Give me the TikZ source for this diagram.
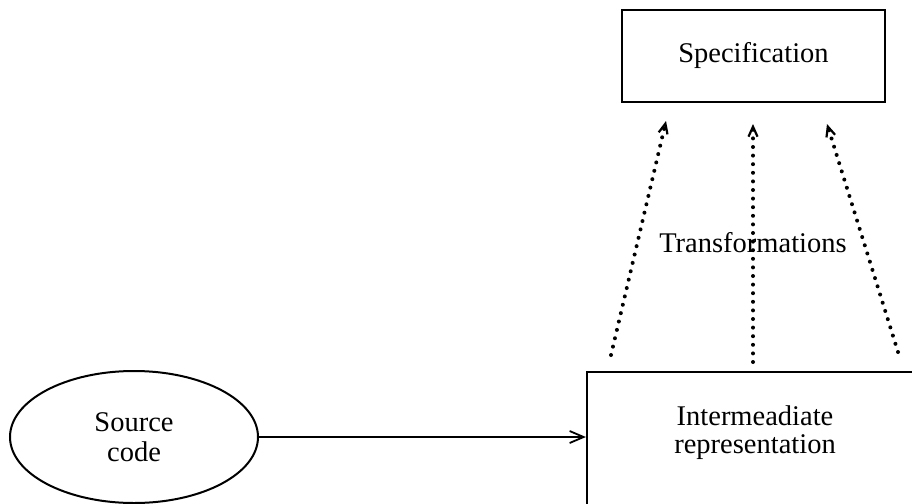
\documentclass[tikz,border=0pt]{standalone}
\usepackage{fontspec}
\setmainfont{Liberation Serif}
\usetikzlibrary{arrows.meta,shapes.geometric}
\begin{document}
\begin{tikzpicture}[x=1pt,y=-1pt,
  every node/.style={font=\fontsize{28.5}{28}\selectfont, align=center},
  box/.style={draw, line width=2.2pt, inner sep=0pt},
  solidarrow/.style={line width=2pt, -{Straight Barb[length=14pt,width=12pt,line width=1.8pt]}},
  dotarrow/.style={line width=4pt, line cap=round, dash pattern=on 0pt off 8.6pt,
    -{Straight Barb[length=10pt,width=9pt,line width=2.2pt]}}]
  \useasboundingbox (0,0) rectangle (912,503);
  \clip (0,0) rectangle (912,503);
  % boxes and the ellipse
  \node[box, minimum width=263pt, minimum height=92pt] (spec) at (753.5,56) {Specification};
  \node[box, minimum width=340pt, minimum height=180pt] (ir) at (757,462) {};
  \node (irtext) at (755,433) {Intermeadiate\\representation};
  \node[draw, ellipse, line width=2pt, minimum width=248pt, minimum height=132pt, inner sep=0pt,
    font=\fontsize{28.5}{30}\selectfont]
    (src) at (134,437) {Source\\code};
  % compile step
  \draw[solidarrow] (src.east) -- (src.east -| ir.west);
  % transformation paths
  \coordinate (a1) at (611,355); \coordinate (b1) at (666,121);
  \coordinate (a2) at (753,362); \coordinate (b2) at (753,124);
  \coordinate (a3) at (898,352); \coordinate (b3) at (827,124);
  \draw[dotarrow] (a1) -- (b1);
  \draw[dotarrow] (a2) -- (b2);
  \draw[dotarrow] (a3) -- (b3);
  \node (tr) at (753,243) {Transformations};
\end{tikzpicture}
\end{document}
